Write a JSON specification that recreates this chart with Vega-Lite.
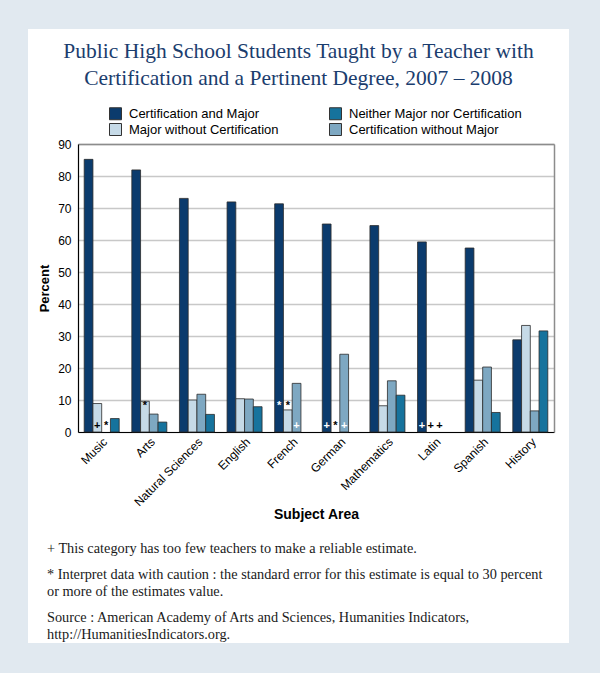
{
  "$schema": "https://vega.github.io/schema/vega-lite/v6.json",
  "background": "#e1e9f0",
  "padding": {"left": 28, "top": 29, "right": 31, "bottom": 30},
  "autosize": {"type": "pad"},
  "spacing": 0,
  "bounds": "flush",
  "title": {
    "text": ["Public High School Students Taught by a Teacher with", "Certification and a Pertinent Degree, 2007 – 2008"],
    "font": "Liberation Serif", "fontSize": 21.5, "fontWeight": "normal", "color": "#1b3d6e",
    "lineHeight": 27, "anchor": "middle", "offset": -60
  },
  "datasets": {
    "bars": [
      {"subject": "Music", "series": "Certification and Major", "value": 85.2},
      {"subject": "Music", "series": "Major without Certification", "value": 8.9},
      {"subject": "Music", "series": "Neither Major nor Certification", "value": 4.2},
      {"subject": "Arts", "series": "Certification and Major", "value": 81.9},
      {"subject": "Arts", "series": "Major without Certification", "value": 9.6},
      {"subject": "Arts", "series": "Certification without Major", "value": 5.6},
      {"subject": "Arts", "series": "Neither Major nor Certification", "value": 3.1},
      {"subject": "Natural Sciences", "series": "Certification and Major", "value": 73.0},
      {"subject": "Natural Sciences", "series": "Major without Certification", "value": 10.0},
      {"subject": "Natural Sciences", "series": "Certification without Major", "value": 11.8},
      {"subject": "Natural Sciences", "series": "Neither Major nor Certification", "value": 5.5},
      {"subject": "English", "series": "Certification and Major", "value": 71.9},
      {"subject": "English", "series": "Major without Certification", "value": 10.4},
      {"subject": "English", "series": "Certification without Major", "value": 10.3},
      {"subject": "English", "series": "Neither Major nor Certification", "value": 7.9},
      {"subject": "French", "series": "Certification and Major", "value": 71.3},
      {"subject": "French", "series": "Major without Certification", "value": 6.9},
      {"subject": "French", "series": "Certification without Major", "value": 15.2},
      {"subject": "German", "series": "Certification and Major", "value": 65.0},
      {"subject": "German", "series": "Certification without Major", "value": 24.3},
      {"subject": "Mathematics", "series": "Certification and Major", "value": 64.5},
      {"subject": "Mathematics", "series": "Major without Certification", "value": 8.2},
      {"subject": "Mathematics", "series": "Certification without Major", "value": 16.0},
      {"subject": "Mathematics", "series": "Neither Major nor Certification", "value": 11.5},
      {"subject": "Latin", "series": "Certification and Major", "value": 59.4},
      {"subject": "Spanish", "series": "Certification and Major", "value": 57.5},
      {"subject": "Spanish", "series": "Major without Certification", "value": 16.2},
      {"subject": "Spanish", "series": "Certification without Major", "value": 20.3},
      {"subject": "Spanish", "series": "Neither Major nor Certification", "value": 6.1},
      {"subject": "History", "series": "Certification and Major", "value": 28.8},
      {"subject": "History", "series": "Major without Certification", "value": 33.3},
      {"subject": "History", "series": "Certification without Major", "value": 6.6},
      {"subject": "History", "series": "Neither Major nor Certification", "value": 31.6}
    ],
    "notesBase": [
      {"subject": "Music", "series": "Major without Certification", "note": "+", "shown": true},
      {"subject": "Music", "series": "Certification without Major", "note": "*", "shown": false},
      {"subject": "French", "series": "Certification without Major", "note": "+", "shown": true},
      {"subject": "German", "series": "Certification and Major", "note": "+", "shown": true},
      {"subject": "German", "series": "Major without Certification", "note": "*", "shown": false},
      {"subject": "German", "series": "Certification without Major", "note": "+", "shown": true},
      {"subject": "Latin", "series": "Certification and Major", "note": "+", "shown": true},
      {"subject": "Latin", "series": "Major without Certification", "note": "+", "shown": false},
      {"subject": "Latin", "series": "Certification without Major", "note": "+", "shown": false}
    ],
    "notesRaised": [
      {"subject": "Arts", "series": "Major without Certification", "note": "*", "shown": true},
      {"subject": "French", "series": "Certification and Major", "note": "*", "shown": true},
      {"subject": "French", "series": "Major without Certification", "note": "*", "shown": true}
    ]
  },
  "vconcat": [
    {
      "width": 541,
      "height": 613,
      "view": {"fill": "white", "stroke": null},
      "title": {
        "text": "+ This category has too few teachers to make a reliable estimate.",
        "subtitle": ["* Interpret data with caution : the standard error for this estimate is equal to 30 percent", "or more of the estimates value."],
        "orient": "bottom", "anchor": "start", "frame": "group", "offset": -100, "dx": 19,
        "baseline": "top", "font": "Liberation Serif", "fontSize": 14.3, "fontWeight": "normal",
        "color": "#1a1a1a", "lineHeight": 17.2,
        "subtitleFont": "Liberation Serif", "subtitleFontSize": 14.3, "subtitleFontWeight": "normal",
        "subtitleColor": "#1a1a1a", "subtitleLineHeight": 17.2, "subtitlePadding": 12
      },
      "resolve": {"axis": {"x": "independent", "y": "independent"}},
      "layer": [
        {
          "data": {"name": "bars"},
          "mark": {"type": "bar", "stroke": "#2b2b2b", "strokeWidth": 0.8},
          "encoding": {
            "x": {
              "field": "subject", "type": "nominal",
              "scale": {"domain": ["Music", "Arts", "Natural Sciences", "English", "French", "German", "Mathematics", "Latin", "Spanish", "History"], "range": [50, 526], "paddingInner": 0.265, "paddingOuter": 0.13},
              "axis": {"orient": "bottom", "offset": -210, "title": "Subject Area", "labelAngle": -45, "labelFontSize": 12, "labelPadding": 4, "ticks": false, "domainColor": "black", "domainWidth": 1.2, "titleFontSize": 14, "titleFontWeight": "bold", "titlePadding": 0, "grid": false}
            },
            "xOffset": {
              "field": "series", "type": "nominal",
              "scale": {"domain": ["Certification and Major", "Major without Certification", "Certification without Major", "Neither Major nor Certification"], "paddingInner": 0, "paddingOuter": 0}
            },
            "y": {
              "field": "value", "type": "quantitative",
              "scale": {"domain": [0, 90], "range": [403, 115], "nice": false},
              "axis": {"orient": "left", "offset": -50, "title": "Percent", "tickCount": 9, "grid": true, "gridColor": "#c8c8c8", "gridWidth": 1.5, "domainColor": "black", "domainWidth": 1.2, "ticks": false, "labelFontSize": 12, "labelPadding": 7, "titleFontSize": 13, "titleFontWeight": "bold", "titlePadding": 6}
            },
            "color": {
              "field": "series", "type": "nominal",
              "scale": {"domain": ["Certification and Major", "Major without Certification", "Neither Major nor Certification", "Certification without Major"], "range": ["#0b3b6d", "#c6dae7", "#16739d", "#7ea8c2"]},
              "legend": {"orient": "none", "legendX": 81, "legendY": 78, "columns": 2, "title": null, "symbolType": "square", "symbolSize": 144, "symbolStrokeColor": "#333333", "symbolStrokeWidth": 1, "symbolOpacity": 1, "labelFont": "Liberation Sans", "labelFontSize": 13, "labelColor": "black", "labelOffset": 7, "columnPadding": 48, "rowPadding": -1, "padding": 0, "labelLimit": 300}
            }
          }
        },
        {
          "data": {"name": "notesBase"},
          "mark": {"type": "text", "font": "Liberation Sans", "fontSize": 11, "fontWeight": "bold", "baseline": "middle"},
          "encoding": {
            "x": {
              "field": "subject", "type": "nominal",
              "scale": {"domain": ["Music", "Arts", "Natural Sciences", "English", "French", "German", "Mathematics", "Latin", "Spanish", "History"]},
              "axis": {"orient": "top", "offset": -115, "labels": false, "ticks": false, "title": null, "grid": false, "domainColor": "#8c8c8c", "domainWidth": 1.5}
            },
            "xOffset": {
              "field": "series", "type": "nominal",
              "scale": {"domain": ["Certification and Major", "Major without Certification", "Certification without Major", "Neither Major nor Certification"]}
            },
            "y": {"datum": 2, "type": "quantitative", "axis": {"orient": "right", "offset": -15, "labels": false, "ticks": false, "title": null, "grid": false, "domainColor": "#8c8c8c", "domainWidth": 1.5}},
            "text": {"field": "note"},
            "color": {"condition": {"test": "datum.shown && (datum.series === 'Certification and Major' || datum.series === 'Certification without Major')", "value": "white"}, "value": "black"}
          }
        },
        {
          "data": {"name": "notesRaised"},
          "mark": {"type": "text", "font": "Liberation Sans", "fontSize": 11, "fontWeight": "bold", "baseline": "middle"},
          "encoding": {
            "x": {"field": "subject", "type": "nominal", "axis": null},
            "xOffset": {"field": "series", "type": "nominal"},
            "y": {"datum": 8, "type": "quantitative", "axis": null},
            "text": {"field": "note"},
            "color": {"condition": {"test": "datum.shown && (datum.series === 'Certification and Major' || datum.series === 'Certification without Major')", "value": "white"}, "value": "black"}
          }
        }
      ]
    },
    {
      "width": 541,
      "height": 1,
      "view": {"fill": "white", "stroke": null},
      "title": {
        "text": ["Source : American Academy of Arts and Sciences, Humanities Indicators,", "http://HumanitiesIndicators.org."],
        "orient": "top", "anchor": "start", "frame": "group", "offset": -14, "dx": 19,
        "baseline": "bottom", "font": "Liberation Serif", "fontSize": 14.3, "fontWeight": "normal",
        "color": "#1a1a1a", "lineHeight": 17.2
      },
      "data": {"values": []},
      "mark": "text"
    }
  ],
  "config": {
    "font": "Liberation Sans",
    "axis": {"labelFont": "Liberation Sans", "titleFont": "Liberation Sans", "labelColor": "black", "titleColor": "black"},
    "view": {"stroke": null}
  }
}
